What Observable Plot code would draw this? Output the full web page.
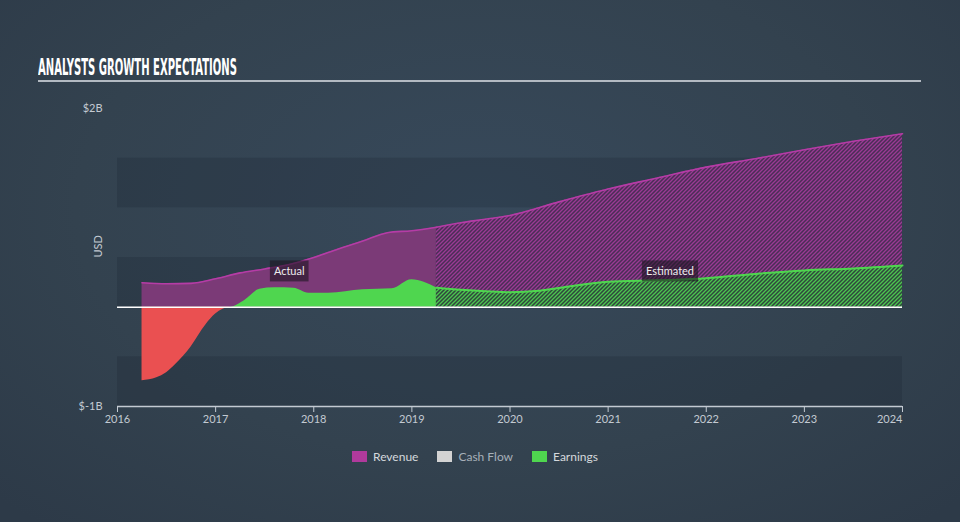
<!DOCTYPE html>
<html>
<head>
<meta charset="utf-8">
<script src="https://cdn.jsdelivr.net/npm/d3@7"></script>
<script src="https://cdn.jsdelivr.net/npm/@observablehq/plot@0.6"></script>
<style>
html, body { margin: 0; padding: 0; }
body {
  width: 960px; height: 522px; overflow: hidden; position: relative;
  background: radial-gradient(ellipse 70% 80% at 50% 40%, #37495b 0%, #33424f 60%, #2d3a48 100%);
  font-family: Lato, "Open Sans", sans-serif;
}
#title {
  position: absolute; left: 38px; top: 55.5px; color: #ffffff;
  font-family: "Liberation Sans Narrow", "DejaVu Sans Condensed", sans-serif;
  font-weight: bold; font-size: 23px; line-height: 23px; white-space: nowrap;
  transform-origin: 0 0;
}
#rule { position: absolute; left: 38px; top: 80px; width: 883px; height: 2px; background: #b3bac2; }
#chart { position: absolute; left: 0; top: 0; }
#legend { position: absolute; left: 352px; top: 448px; height: 16px; display: flex; align-items: center; font-size: 12px; white-space: nowrap; }
#legend .item { display: flex; align-items: center; margin-right: 19px; color: #d5d9dd; }
#legend .sw { width: 15px; height: 11px; margin-right: 6px; }
</style>
</head>
<body>
<div id="title">ANALYSTS GROWTH EXPECTATIONS</div>
<div id="rule"></div>
<div id="chart"></div>
<div id="legend"></div>
<script>
// ---- data (values in $B) ----
const revenueActualYears = [2016.25, 2016.5, 2016.75, 2017.0, 2017.25, 2017.5, 2017.75, 2018.0, 2018.25, 2018.5, 2018.75, 2019.0, 2019.25];
const revenueActual      = [0.246, 0.236, 0.24, 0.286, 0.345, 0.385, 0.43, 0.50, 0.585, 0.665, 0.75, 0.77, 0.805];
const revenueEstYears    = [2019.25, 2019.5, 2019.75, 2020.0, 2020.5, 2021.0, 2021.5, 2022.0, 2022.5, 2023.0, 2023.5, 2024.0];
const revenueEst         = [0.805, 0.85, 0.885, 0.923, 1.06, 1.19, 1.30, 1.41, 1.495, 1.585, 1.67, 1.746];

const earningsActualYears = [2016.25, 2016.4, 2016.5, 2016.6, 2016.75, 2016.9, 2017.0, 2017.15, 2017.3, 2017.45, 2017.6, 2017.8, 2017.95, 2018.15, 2018.5, 2018.8, 2019.0, 2019.25];
const earningsActual      = [-0.74, -0.71, -0.66, -0.57, -0.40, -0.18, -0.07, 0.0, 0.07, 0.18, 0.195, 0.19, 0.14, 0.14, 0.175, 0.185, 0.276, 0.195];
const earningsEstYears    = [2019.25, 2019.5, 2019.75, 2020.0, 2020.3, 2020.6, 2021.0, 2021.5, 2022.0, 2022.5, 2023.0, 2023.5, 2024.0];
const earningsEst         = [0.195, 0.175, 0.16, 0.15, 0.165, 0.208, 0.255, 0.27, 0.29, 0.335, 0.37, 0.39, 0.42];

const annotLabels = ["Actual", "Estimated"];
const annotX = [2017.75, 2021.63];
const annotY = [0.355, 0.355];

const xTicks = [2016, 2017, 2018, 2019, 2020, 2021, 2022, 2023, 2024];
const yTicks = [-1, 2];
const bandLows = [1, 0, -1];
const bandSize = 0.5;

const legendNames = ["Revenue", "Cash Flow", "Earnings"];
const legendColors = ["#b03a9c", "#d3d3d3", "#4fd64f"];

// ---- tables ----
const toRows = (xs, ys) => xs.map((x, i) => ({x, y: ys[i]}));
const revA = toRows(revenueActualYears, revenueActual);
const revE = toRows(revenueEstYears, revenueEst);
const earnA = toRows(earningsActualYears, earningsActual);
const earnPos = earnA.map(d => ({x: d.x, y: Math.max(0, d.y)}));
const earnNeg = earnA.map(d => ({x: d.x, y: Math.min(0, d.y)}));
const earnE = toRows(earningsEstYears, earningsEst);
const annots = annotLabels.map((t, i) => ({t, x: annotX[i], y: annotY[i]}));
const bands = bandLows.map(b => ({y1: b, y2: b + bandSize}));

const axisColor = "#c3cad2";
const curve = "monotone-x";
// placeholder fills, swapped for SVG patterns after rendering
const revEstKey = "#4b2e55";
const earnEstKey = "#30473d";
const annotKey = "#eeeeee";

const plot = Plot.plot({
  width: 960, height: 522,
  marginTop: 108, marginBottom: 116, marginLeft: 117, marginRight: 58,
  style: {background: "transparent", fontFamily: "Lato, 'Open Sans', sans-serif", fontSize: "11px", color: axisColor},
  x: {type: "linear", domain: [2016, 2024]},
  y: {domain: [-1, 2]},
  marks: [
    Plot.rect(bands, {y1: "y1", y2: "y2", fill: "#18222e", fillOpacity: 0.22}),
    Plot.areaY(revA, {x: "x", y1: 0, y2: "y", fill: "#7b3a77", curve}),
    Plot.areaY(revE, {x: "x", y1: 0, y2: "y", fill: revEstKey, curve}),
    Plot.areaY(earnPos, {x: "x", y1: 0, y2: "y", fill: "#4fd64f", curve}),
    Plot.areaY(earnNeg, {x: "x", y1: 0, y2: "y", fill: "#ea5051", curve}),
    Plot.areaY(earnE, {x: "x", y1: 0, y2: "y", fill: earnEstKey, curve}),
    Plot.lineY(revA, {x: "x", y: "y", stroke: "#b53ca6", strokeWidth: 1.6, curve}),
    Plot.lineY(revE, {x: "x", y: "y", stroke: "#b53ca6", strokeWidth: 1.6, curve}),
    Plot.lineY(earnE, {x: "x", y: "y", stroke: "#4fd64f", strokeWidth: 2, curve}),
    Plot.ruleY([0], {stroke: "#ffffff", strokeWidth: 1.5}),
    Plot.ruleY([-1], {stroke: axisColor, strokeWidth: 1.5}),
    Plot.axisX(xTicks.slice(0, -1), {tickSize: 6, tickPadding: 3, stroke: axisColor, fill: axisColor, tickFormat: d => String(d), label: null}),
    Plot.axisX(xTicks.slice(-1), {tickSize: 6, tickPadding: 3, stroke: axisColor, fill: axisColor, tickFormat: d => String(d), textAnchor: "end", label: null}),
    Plot.axisY(yTicks, {tickSize: 0, tickPadding: 15, fill: axisColor, tickFormat: d => `$${d}B`, label: null}),
    Plot.text(["USD"], {frameAnchor: "left", dx: -19, rotate: -90, fill: axisColor, fontSize: 11}),
    Plot.text(annots, {x: "x", y: "y", text: "t", fill: annotKey, fontSize: 11})
  ]
});

document.getElementById("chart").appendChild(plot);

const svg = d3.select(plot);
const defs = svg.insert("svg:defs", ":first-child");
const mkPattern = (id, bg, fg) => {
  const p = defs.append("svg:pattern").attr("id", id).attr("patternUnits", "userSpaceOnUse").attr("width", 4).attr("height", 4);
  p.append("svg:rect").attr("width", 4).attr("height", 4).attr("fill", bg);
  p.append("svg:path").attr("d", "M-1,1 l2,-2 M0,4 l4,-4 M3,5 l2,-2").attr("stroke", fg).attr("stroke-width", 1.3);
};
mkPattern("hatchRev", "#4a2d56", "#9b3a94");
mkPattern("hatchEarn", "#2f473c", "#4cc64f");
const setFill = (key, f) => svg.selectAll(`g[fill="${key}"]`).attr("fill", f).selectAll("path").attr("fill", f);
setFill(revEstKey, "url(#hatchRev)");
setFill(earnEstKey, "url(#hatchEarn)");

// dark label boxes behind the annotation texts
svg.selectAll(`g[fill="${annotKey}"] text`).each(function() {
  const bb = this.getBBox();
  const padX = 4, h = 21;
  d3.select(this.parentNode).insert("svg:rect", () => this)
    .attr("transform", this.getAttribute("transform"))
    .attr("x", bb.x - padX).attr("y", bb.y + bb.height / 2 - h / 2)
    .attr("width", bb.width + 2 * padX).attr("height", h)
    .attr("fill", "#1c1622").attr("fill-opacity", 0.6);
});

// ---- legend ----
const legend = d3.select("#legend");
legendNames.forEach((n, i) => {
  const it = legend.append("div").attr("class", "item");
  it.append("div").attr("class", "sw").style("background", legendColors[i]);
  it.append("span").text(n).style("color", n === "Cash Flow" ? "#a7b0b9" : "#d5d9dd");
});

// ---- title width fit ----
const title = document.getElementById("title");
const tw = title.getBoundingClientRect().width;
title.style.transform = `scaleX(${199 / tw})`;
</script>
</body>
</html>
